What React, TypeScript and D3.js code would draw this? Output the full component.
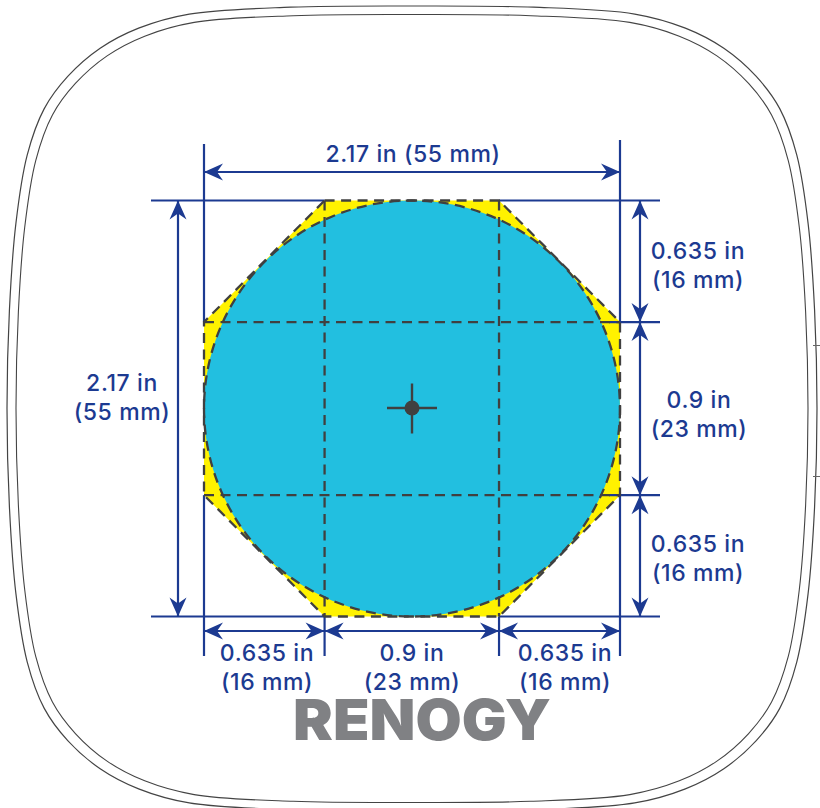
import React from "react";
import * as d3 from "d3";

// Values
const segmentsX = [0.629, 0.91, 0.631];
const segmentsY = [0.634, 0.903, 0.633];
const totalIn = 2.17;
const segmentLabels = [
  ["0.635 in", "(16 mm)"],
  ["0.9 in", "(23 mm)"],
  ["0.635 in", "(16 mm)"],
];
const totalLabel = "2.17 in (55 mm)";
const totalLabelLines = ["2.17 in", "(55 mm)"];
const brand = "RENOGY";
// One quadrant of the outline, normalized to half-width / half-height
const outlineCorner: [number, number][] = [
  [-1, 0], [-0.994, -0.245], [-0.978, -0.46], [-0.95, -0.63], [-0.908, -0.745],
  [-0.85, -0.825], [-0.77, -0.895], [-0.675, -0.945], [-0.55, -0.98], [-0.3, -0.997],
];

const BLUE = "#1c3a91";
const DARK = "#404040";
const FONT = "Inter, 'Noto Sans', sans-serif";

const W = 820, H = 808;
const x = d3.scaleLinear().domain([0, totalIn]).range([204, 620]);
const y = d3.scaleLinear().domain([0, totalIn]).range([200.5, 616.5]);
const cutsX = Array.from(d3.cumsum(segmentsX));
const cutsY = Array.from(d3.cumsum(segmentsY));
const a = cutsX[0], b = cutsX[1];
const p = cutsY[0], q = cutsY[1];
const c = totalIn;

const outlineAll: [number, number][] = [
  ...outlineCorner,
  [0, -1],
  ...[...outlineCorner].reverse().map(([u, v]) => [-u, v] as [number, number]),
  ...outlineCorner.slice(1).map(([u, v]) => [-u, -v] as [number, number]),
  [0, 1],
  ...[...outlineCorner].slice(1).reverse().map(([u, v]) => [u, -v] as [number, number]),
];
const cx = x(c / 2), cy = y(c / 2);
const outlinePath = (hw: number, hh: number) =>
  d3.line<[number, number]>().x((d) => cx + d[0] * hw).y((d) => cy + d[1] * hh).curve(d3.curveCatmullRomClosed.alpha(0.5))(outlineAll) as string;

const octagon: [number, number][] = [
  [a, 0], [b, 0], [c, p], [c, q], [b, c], [a, c], [0, q], [0, p],
];
const octPath = d3.line<[number, number]>().x((d) => x(d[0])).y((d) => y(d[1])).curve(d3.curveLinearClosed)(octagon) as string;

function Arrow({ x1, y1, x2, y2 }: { x1: number; y1: number; x2: number; y2: number }) {
  const ang = (Math.atan2(y2 - y1, x2 - x1) * 180) / Math.PI;
  const head = "M0,0 L-19,-8.5 L-13,0 L-19,8.5 Z";
  return (
    <g>
      <line x1={x1} y1={y1} x2={x2} y2={y2} stroke={BLUE} strokeWidth={2.2} />
      <path d={head} fill={BLUE} transform={`translate(${x2},${y2}) rotate(${ang})`} />
      <path d={head} fill={BLUE} transform={`translate(${x1},${y1}) rotate(${ang + 180})`} />
    </g>
  );
}

function Label({ px, py, lines, gap = 29 }: { px: number; py: number; lines: string[]; gap?: number }) {
  return (
    <text x={px} y={py} fill={BLUE} fontFamily={FONT} fontSize={23} fontWeight={500} letterSpacing={0.6} textAnchor="middle">
      {lines.map((l, i) => (
        <tspan key={i} x={px} dy={i === 0 ? 0 : gap}>{l}</tspan>
      ))}
    </text>
  );
}

export default function App() {
  const ext = (x1: number, y1: number, x2: number, y2: number, k: string) => (
    <line key={k} x1={x1} y1={y1} x2={x2} y2={y2} stroke={BLUE} strokeWidth={2.2} />
  );
  const edgesX = [0, a, b, c];
  const edgesY = [0, p, q, c];
  return (
    <svg width={W} height={H} style={{ position: "absolute", left: 0, top: 0, background: "#fff" }}>
      <path d={outlinePath(405, 402.5)} fill="none" stroke="#444" strokeWidth={1.2} />
      <path d={outlinePath(396, 394)} fill="none" stroke="#444" strokeWidth={1.1} />
      <line x1={813} x2={820} y1={345.5} y2={345.5} stroke="#666" strokeWidth={1} />
      <line x1={813} x2={820} y1={476.5} y2={476.5} stroke="#666" strokeWidth={1} />

      <path d={octPath} fill="#fff200" />
      <circle cx={cx} cy={cy} r={x(c / 2) - x(0)} fill="#22bfe0" />

      {ext(x(0), 144, x(0), y(p), "v0a")}
      {ext(x(0), y(q), x(0), 656, "v0b")}
      {ext(x(c), 140, x(c), y(p), "v1a")}
      {ext(x(c), y(q), x(c), 656, "v1b")}
      {ext(x(a), y(c), x(a), 656, "v2")}
      {ext(x(b), y(c), x(b), 656, "v3")}
      {ext(151, y(0), x(a), y(0), "h0a")}
      {ext(x(b), y(0), 660, y(0), "h0b")}
      {ext(151, y(c), x(a), y(c), "h1a")}
      {ext(x(b), y(c), 660, y(c), "h1b")}
      {ext(609, y(p), 660, y(p), "h2")}
      {ext(609, y(q), 660, y(q), "h3")}

      <g fill="none" stroke={DARK} strokeWidth={2.3} strokeDasharray="10 6.5">
        <path d={octPath} />
        <circle cx={cx} cy={cy} r={x(c / 2) - x(0)} />
        <line x1={x(a)} x2={x(a)} y1={y(0)} y2={y(c)} />
        <line x1={x(b)} x2={x(b)} y1={y(0)} y2={y(c)} />
        <line x1={x(0)} x2={x(c)} y1={y(p)} y2={y(p)} />
        <line x1={x(0)} x2={x(c)} y1={y(q)} y2={y(q)} />
      </g>

      <g stroke={DARK} strokeWidth={2.4}>
        <line x1={cx - 25} x2={cx + 25} y1={cy - 0.5} y2={cy - 0.5} />
        <line x1={cx} x2={cx} y1={cy - 25} y2={cy + 25} />
      </g>
      <circle cx={cx} cy={cy - 0.5} r={7.5} fill={DARK} />

      <Arrow x1={x(0)} y1={172} x2={x(c)} y2={172} />
      <Arrow x1={178} y1={y(0)} x2={178} y2={y(c)} />
      {segmentsX.map((_, i) => (
        <React.Fragment key={i}>
          <Arrow x1={640} y1={y(edgesY[i])} x2={640} y2={y(edgesY[i + 1])} />
          <Arrow x1={x(edgesX[i])} y1={631} x2={x(edgesX[i + 1])} y2={631} />
        </React.Fragment>
      ))}

      <Label px={413} py={162} lines={[totalLabel]} />
      <Label px={122} py={391} lines={totalLabelLines} />
      <Label px={698} py={258.5} lines={segmentLabels[0]} />
      <Label px={699} py={407.5} lines={segmentLabels[1]} />
      <Label px={698} py={552} lines={segmentLabels[2]} />
      <Label px={267} py={660.5} lines={segmentLabels[0]} />
      <Label px={412} py={660.5} lines={segmentLabels[1]} />
      <Label px={565} py={660.5} lines={segmentLabels[2]} />

      <text x={293} y={740} fill="#808184" fontFamily={FONT} fontSize={57} fontWeight={900} textLength={258} lengthAdjust="spacingAndGlyphs">
        {brand}
      </text>
    </svg>
  );
}
